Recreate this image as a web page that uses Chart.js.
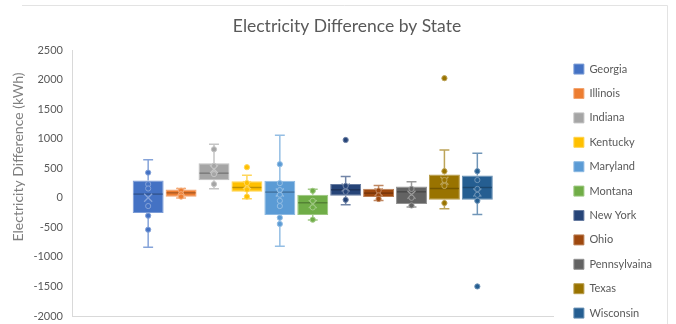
<!DOCTYPE html>
<html>
<head>
<meta charset="utf-8">
<script src="https://cdn.jsdelivr.net/npm/chart.js@4.4.1/dist/chart.umd.min.js"></script>
<style>
  html, body { margin: 0; padding: 0; background: #ffffff; }
  #wrap { width: 676px; height: 324px; }
</style>
</head>
<body>
<div id="wrap"><canvas id="grafico"></canvas></div>
<script>
// quartis e bigodes por estado (kWh)
const estados = ["Georgia", "Illinois", "Indiana", "Kentucky", "Maryland", "Montana",
    "New York", "Ohio", "Pennsylvaina", "Texas", "Wisconsin"];
const cores = ["#4472C4", "#ED7D31", "#A5A5A5", "#FFC000", "#5B9BD5", "#70AD47",
    "#264478", "#9E480E", "#636363", "#997300", "#255E91"];

const quartil1 = [-258, 17, 298, 101, -292, -292, 34, 12, -107, -34, -34];
const medianas = [62, 84, 416, 174, 96, -84, 135, 79, 101, 157, 174];
const quartil3 = [292, 140, 585, 281, 287, 51, 231, 152, 191, 393, 376];
const minimos = [-838, -5, 152, -15, -821, -376, -118, -45, -157, -185, -281];
const maximos = [645, 157, 905, 383, 1057, 146, 359, 208, 270, 809, 753];
const medias = [0, 100, 484, 214, 89, -107, 174, 96, 51, 287, 89];

const pontos = [
    [426, 231, 157, -140, -303, -539],
    [120, 60, 20],
    [820, 539, 400, 231],
    [250, 140, 20],
    [568, 248, 130, 51, -51, -140, -337, -443],
    [118, -51, -163, -370],
    [200, 100, -34],
    [120, 40, -20],
    [150, 0, -130],
    [450, 300, 200, -89],
    [450, 300, 150, 50, -51]
];
const outliers = [[], [], [], [517], [], [], [978], [], [], [2023], [-1500]];

const ticksY = [-2000, -1500, -1000, -500, 0, 500, 1000, 1500, 2000, 2500];

function misturar(hex, alvo, t) {
    const n = parseInt(hex.slice(1), 16);
    const r = (n >> 16) & 255, g = (n >> 8) & 255, b = n & 255;
    const m = v => Math.round(v + (alvo - v) * t);
    return `rgb(${m(r)}, ${m(g)}, ${m(b)})`;
}

const moldura = {
    id: "moldura",
    beforeDraw(chart) {
        const ctx = chart.ctx;
        ctx.save();
        ctx.fillStyle = "#ffffff";
        ctx.fillRect(0, 0, chart.width, chart.height);
        ctx.strokeStyle = "#e3e3e3";
        ctx.lineWidth = 1;
        ctx.beginPath();
        ctx.moveTo(22, 5.5);
        ctx.lineTo(667.5, 5.5);
        ctx.lineTo(667.5, chart.height);
        ctx.stroke();

        // titulo do eixo Y
        ctx.translate(18, 157);
        ctx.rotate(-Math.PI / 2);
        ctx.fillStyle = "#7f7f7f";
        ctx.font = "14px Lato";
        ctx.textAlign = "center";
        ctx.textBaseline = "middle";
        ctx.fillText("Electricity Difference (kWh)", 0, 0);
        ctx.restore();
    }
};

const bigodes = {
    id: "bigodes",
    afterDatasetsDraw(chart) {
        const ctx = chart.ctx;
        const escala = chart.scales.y;
        ctx.save();
        estados.forEach((estado, i) => {
            const barra = chart.getDatasetMeta(i).data[0];
            if (!barra) return;
            const x = barra.x;
            const w = barra.width;
            const cor = cores[i];
            const claro = misturar(cor, 255, 0.35);
            const escuro = misturar(cor, 0, 0.25);
            const py = v => escala.getPixelForValue(v);
            const tampa = w * 0.16;

            ctx.strokeStyle = claro;
            ctx.lineWidth = 1.5;
            ctx.beginPath();
            ctx.moveTo(x, py(quartil3[i]));
            ctx.lineTo(x, py(maximos[i]));
            ctx.moveTo(x - tampa, py(maximos[i]));
            ctx.lineTo(x + tampa, py(maximos[i]));
            ctx.moveTo(x, py(quartil1[i]));
            ctx.lineTo(x, py(minimos[i]));
            ctx.moveTo(x - tampa, py(minimos[i]));
            ctx.lineTo(x + tampa, py(minimos[i]));
            ctx.stroke();

            // mediana
            ctx.strokeStyle = escuro;
            ctx.lineWidth = 1.5;
            ctx.beginPath();
            ctx.moveTo(x - w / 2 + 1, py(medianas[i]));
            ctx.lineTo(x + w / 2 - 1, py(medianas[i]));
            ctx.stroke();

            // media (X)
            const ym = py(medias[i]);
            ctx.strokeStyle = claro;
            ctx.lineWidth = 1.3;
            ctx.beginPath();
            ctx.moveTo(x - 4, ym - 4);
            ctx.lineTo(x + 4, ym + 4);
            ctx.moveTo(x + 4, ym - 4);
            ctx.lineTo(x - 4, ym + 4);
            ctx.stroke();

            // pontos internos e outliers
            ctx.lineWidth = 1;
            pontos[i].concat(outliers[i]).forEach(v => {
                ctx.beginPath();
                ctx.arc(x, py(v), 2.6, 0, Math.PI * 2);
                ctx.fillStyle = cor;
                ctx.fill();
                ctx.strokeStyle = claro;
                ctx.stroke();
            });
        });
        ctx.restore();
    }
};

const conjuntos = estados.map((estado, i) => ({
    label: estado,
    data: [[quartil1[i], quartil3[i]]],
    backgroundColor: cores[i],
    borderColor: misturar(cores[i], 255, 0.3),
    borderWidth: 1,
    borderSkipped: false,
    categoryPercentage: 0.752,
    barPercentage: 0.94
}));

new Chart(document.getElementById("grafico"), {
    type: "bar",
    data: { labels: [""], datasets: conjuntos },
    options: {
        responsive: true,
        maintainAspectRatio: false,
        animation: false,
        layout: { padding: { top: 0, right: 14, bottom: -8, left: 32 } },
        plugins: {
            title: {
                display: true,
                text: "Electricity Difference by State",
                color: "#595959",
                font: { family: "Lato", size: 17.5, weight: "normal" },
                padding: { top: 16, bottom: 13 }
            },
            legend: {
                position: "right",
                align: "end",
                labels: {
                    color: "#595959",
                    font: { family: "Lato", size: 11 },
                    boxWidth: 10,
                    boxHeight: 10,
                    padding: 13.4
                }
            },
            tooltip: { enabled: false }
        },
        scales: {
            x: {
                afterFit: escala => { escala.height = 16; },
                grid: { display: false, drawTicks: false },
                ticks: { display: false },
                border: { color: "#d9d9d9" }
            },
            y: {
                min: -2000,
                max: 2500,
                afterBuildTicks: escala => { escala.ticks = ticksY.map(v => ({ value: v })); },
                afterFit: escala => {
                    escala.width = 40;
                    escala.paddingTop = 0;
                    escala.paddingBottom = 0;
                },
                grid: { display: false, drawTicks: false },
                border: { color: "#d9d9d9" },
                ticks: {
                    color: "#595959",
                    font: { family: "Lato", size: 11 },
                    padding: 9,
                    callback: v => String(v)
                }
            },
            folga: {
                position: "right",
                min: 0,
                max: 1,
                afterFit: escala => {
                    escala.width = 7;
                    escala.paddingTop = 0;
                    escala.paddingBottom = 0;
                },
                grid: { display: false, drawTicks: false },
                border: { display: false },
                ticks: { display: false }
            }
        }
    },
    plugins: [moldura, bigodes]
});
</script>
</body>
</html>
